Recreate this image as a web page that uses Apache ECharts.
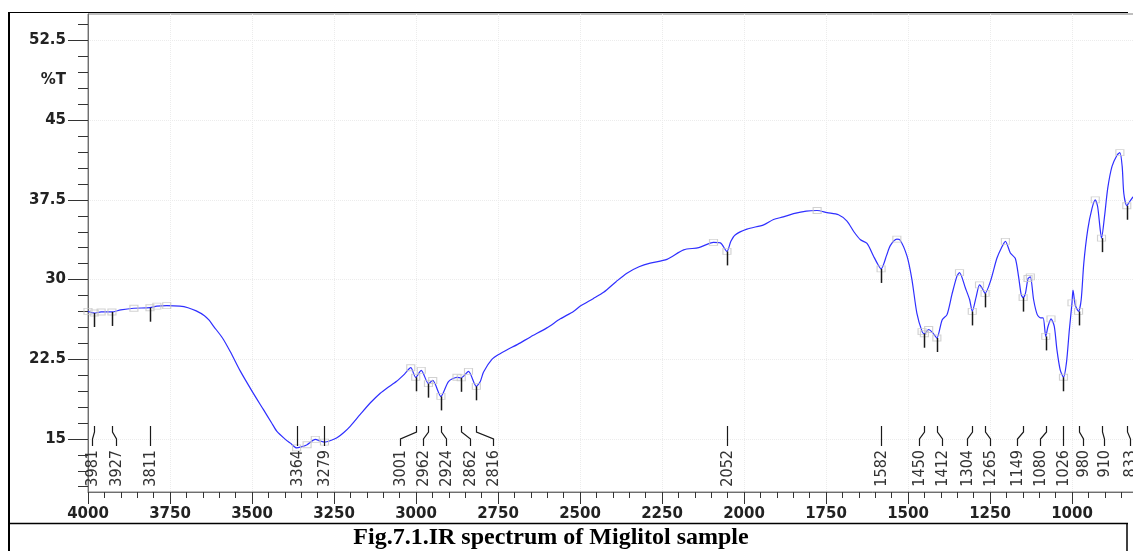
<!DOCTYPE html>
<html>
<head>
<meta charset="utf-8">
<script src="https://cdn.jsdelivr.net/npm/echarts@6/dist/echarts.min.js"></script>
<style>
  html, body { margin: 0; padding: 0; background: #fff; }
  #chart { width: 1133px; height: 551px; }
</style>
</head>
<body>
<div id="chart"></div>
<script>
// IR spectrum of a Miglitol sample: wavenumber (cm-1) vs. transmittance (%T)
const spectrumWn = [
  4000, 3981, 3960, 3927, 3900, 3860, 3811, 3790, 3760, 3720, 3695, 3670, 3645, 3630, 3617,
  3590, 3566, 3536, 3500, 3465, 3440, 3424, 3400, 3383, 3364, 3350, 3332, 3307, 3292, 3279,
  3260, 3241, 3220, 3200, 3170, 3139, 3109, 3088, 3060, 3035, 3016, 3001, 2984, 2962, 2949,
  2924, 2901, 2875, 2862, 2840, 2816, 2804, 2794, 2768, 2745, 2722, 2690, 2651, 2601, 2560,
  2520, 2499, 2460, 2428, 2390, 2357, 2320, 2286, 2235, 2184, 2138, 2093, 2072, 2052, 2040,
  2027, 1991, 1940, 1910, 1880, 1849, 1810, 1777, 1747, 1712, 1686, 1665, 1645, 1625, 1605,
  1594, 1582, 1565, 1554, 1534, 1525, 1503, 1488, 1473, 1457, 1450, 1437, 1425, 1412, 1396,
  1381, 1366, 1351, 1343, 1325, 1312, 1304, 1292, 1282, 1274, 1265, 1249, 1229, 1215, 1203,
  1188, 1173, 1163, 1155, 1149, 1142, 1134, 1127, 1117, 1106, 1096, 1088, 1080, 1073, 1064,
  1054, 1046, 1036, 1026, 1017, 1008, 1000, 997, 990, 980, 972, 964, 952, 939, 929,
  922, 914, 910, 901, 891, 878, 862, 854, 847, 842, 833, 824, 813, 800
];
const spectrumT = [
  27.0, 26.85, 26.95, 26.95, 27.15, 27.3, 27.35, 27.5, 27.55, 27.5, 27.35, 27.05, 26.6, 26.15, 25.6,
  24.5, 23.2, 21.4, 19.5, 17.75, 16.5, 15.7, 15.0, 14.6, 14.15, 14.25, 14.45, 14.95, 14.8, 14.7,
  14.85, 15.1, 15.6, 16.2, 17.3, 18.4, 19.3, 19.8, 20.4, 21.1, 21.7, 20.8, 21.45, 20.2, 20.5,
  19.0, 20.4, 20.8, 20.75, 21.35, 19.95, 20.4, 21.3, 22.5, 23.0, 23.4, 23.9, 24.6, 25.45, 26.3,
  27.0, 27.5, 28.2, 28.8, 29.8, 30.6, 31.2, 31.55, 31.9, 32.8, 33.0, 33.5, 33.45, 32.65, 33.6,
  34.2, 34.75, 35.15, 35.65, 35.9, 36.2, 36.45, 36.5, 36.3, 36.1, 35.5, 34.5, 33.75, 33.4, 32.2,
  31.55, 31.0, 32.3, 33.2, 33.8, 33.75, 32.2, 30.0, 26.85, 25.1, 24.9, 25.3, 25.0, 24.5, 26.2,
  26.7, 28.6, 30.3, 30.65, 29.2, 28.1, 27.0, 28.4, 29.5, 29.2, 28.7, 29.8, 32.0, 33.0, 33.6,
  32.5, 32.0, 30.3, 28.6, 28.3, 28.7, 30.1, 30.25, 28.1, 26.7, 26.4, 26.4, 24.65, 25.6, 26.3,
  25.6, 23.4, 21.5, 20.8, 22.15, 25.3, 27.8, 29.0, 27.6, 27.0, 28.1, 31.55, 34.7, 36.7, 37.5,
  36.9, 34.7, 33.9, 35.9, 38.6, 40.65, 41.75, 41.95, 40.65, 38.1, 36.95, 37.35, 37.8, 38.0
];

// Labelled absorption bands
const peakWn = [3981, 3927, 3811, 3364, 3279, 3001, 2962, 2924, 2862, 2816, 2052,
                1582, 1450, 1412, 1304, 1265, 1149, 1080, 1026, 980, 910, 833];
const peakT  = [26.85, 26.95, 27.35, 14.15, 14.7, 20.8, 20.2, 19.0, 20.75, 19.95, 32.65,
                31.0, 24.9, 24.5, 27.0, 28.7, 28.3, 24.65, 20.8, 27.0, 33.9, 36.95];

// Points flagged by the peak picker (small square markers)
const boxWn = [4000, 3981, 3960, 3927, 3860, 3811, 3790, 3760, 3364, 3332, 3307, 3279,
               3016, 3001, 2984, 2962, 2949, 2924, 2875, 2862, 2840, 2816,
               2093, 2052, 1777, 1582, 1534, 1457, 1450, 1437, 1412, 1343, 1304, 1282, 1265,
               1203, 1149, 1134, 1127, 1080, 1064, 1026, 1000, 980, 929, 910, 854, 833];

const yLabelValues = [15, 22.5, 30, 37.5, 45, 52.5];
const xLabelValues = [4000, 3750, 3500, 3250, 3000, 2750, 2500, 2250, 2000, 1750, 1500, 1250, 1000];

// Horizontal shift (px) of each band label away from its band, to keep labels apart
const tagNudge = [-2, 4, 0, 0, 0, -16, -5, 5, 9, 17, 0,
                  0, -5, 5, -5, 5, -6, -6, 0, 4, 2, 3];

const spectrum = spectrumWn.map((w, i) => [w, spectrumT[i]]);
const boxes = boxWn.map(w => [w, spectrumT[spectrumWn.indexOf(w)]]);
const peaks = peakWn.map((w, i) => [w, peakT[i], i]);

const yMinorTicks = [];
for (let v = 10.5; v <= 54.01; v += 1.5) yMinorTicks.push(+v.toFixed(2));

const chart = echarts.init(document.getElementById('chart'), null, { renderer: 'canvas' });

const LABEL_TOP = 426;   // top of the band-label connector lines
const TEXT_TOP = 450;    // upper end of the rotated band numbers

chart.setOption({
  animation: false,
  backgroundColor: '#ffffff',
  grid: {
    left: 88, top: 14, right: -21, bottom: 59,
    outerBoundsMode: 'none', containLabel: false,
    show: true, borderColor: '#7f7f7f', borderWidth: 1
  },
  xAxis: {
    type: 'value', inverse: true, min: 750, max: 4000, interval: 250,
    axisLine: { show: true, onZero: false, lineStyle: { color: '#6f6f6f', width: 1 } },
    axisTick: { show: true, length: 12, lineStyle: { color: '#333' } },
    minorTick: { show: true, splitNumber: 5, length: 6, lineStyle: { color: '#333' } },
    axisLabel: {
      margin: 15, color: '#222', fontFamily: 'DejaVu Sans', fontSize: 15, fontWeight: 'bold',
      formatter: v => (xLabelValues.indexOf(v) >= 0 ? String(v) : '')
    },
    splitLine: { show: true, lineStyle: { color: '#ececec', type: 'dotted' } }
  },
  yAxis: [{
    type: 'value', min: 10, max: 55, position: 'left',
    axisLine: { show: true, lineStyle: { color: '#6f6f6f', width: 1 } },
    axisTick: { show: true, length: 20, customValues: yLabelValues, lineStyle: { color: '#333' } },
    axisLabel: {
      margin: 22, color: '#222', fontFamily: 'DejaVu Sans', fontSize: 15, fontWeight: 'bold',
      customValues: yLabelValues, formatter: v => String(v)
    },
    splitLine: { show: true, lineStyle: { color: '#ececec', type: 'dotted' } }
  }, {
    type: 'value', min: 10, max: 55, position: 'left',
    axisLine: { show: false },
    axisTick: { show: true, length: 10, customValues: yMinorTicks, lineStyle: { color: '#333' } },
    axisLabel: { show: false },
    splitLine: { show: false }
  }],
  series: [{
    type: 'line', data: spectrum, showSymbol: false, smooth: 0.25,
    lineStyle: { color: '#2f2fff', width: 1.2 }, z: 3, silent: true
  }, {
    type: 'scatter', data: boxes, symbol: 'rect', symbolSize: [8, 6], silent: true,
    itemStyle: { color: 'rgba(0,0,0,0)', borderColor: '#c6c6c6', borderWidth: 1 }, z: 4
  }, {
    type: 'custom', data: peaks, silent: true, z: 5,
    renderItem: (params, api) => {
      const i = api.value(2);
      const p = api.coord([api.value(0), api.value(1)]);
      const px = Math.round(p[0]) + 0.5;
      const lx = px + tagNudge[i];
      const children = [];
      if (p[1] + 14 < LABEL_TOP) {
        children.push({
          type: 'line', shape: { x1: px, y1: p[1], x2: px, y2: p[1] + 14 },
          style: { stroke: '#1a1a1a', lineWidth: 1.5 }
        });
      }
      children.push({
        type: 'polyline',
        shape: { points: [[px, LABEL_TOP], [px, LABEL_TOP + 6], [lx, LABEL_TOP + 13], [lx, LABEL_TOP + 20]] },
        style: { stroke: '#1a1a1a', lineWidth: 1.2, fill: null }
      });
      children.push({
        type: 'text', x: lx, y: TEXT_TOP, rotation: Math.PI / 2,
        style: {
          text: String(api.value(0)), x: 0, y: 0, align: 'right', verticalAlign: 'middle',
          fill: '#333', font: '16px "Liberation Sans Narrow", "DejaVu Sans Condensed", sans-serif'
        }
      });
      return { type: 'group', children };
    }
  }],
  graphic: [
    { type: 'text', x: 66, y: 80, style: { text: '%T', align: 'right', verticalAlign: 'middle',
      fill: '#222', font: 'bold 15px "DejaVu Sans"' } },
    // table frame around the figure and its caption
    { type: 'line', shape: { x1: 9, y1: 12, x2: 9, y2: 551 }, style: { stroke: '#000', lineWidth: 2 } },
    { type: 'line', shape: { x1: 8, y1: 12.5, x2: 1128, y2: 12.5 }, style: { stroke: '#000', lineWidth: 1 } },
    { type: 'line', shape: { x1: 8, y1: 523.5, x2: 1128, y2: 523.5 }, style: { stroke: '#000', lineWidth: 1.5 } },
    { type: 'line', shape: { x1: 1127, y1: 523, x2: 1127, y2: 551 }, style: { stroke: '#000', lineWidth: 1.5 } },
    { type: 'text', x: 551, y: 538, style: { text: 'Fig.7.1.IR spectrum of Miglitol sample',
      align: 'center', verticalAlign: 'middle', fill: '#000',
      font: 'bold 24px "Liberation Serif", "Times New Roman", serif' } }
  ]
});
</script>
</body>
</html>
